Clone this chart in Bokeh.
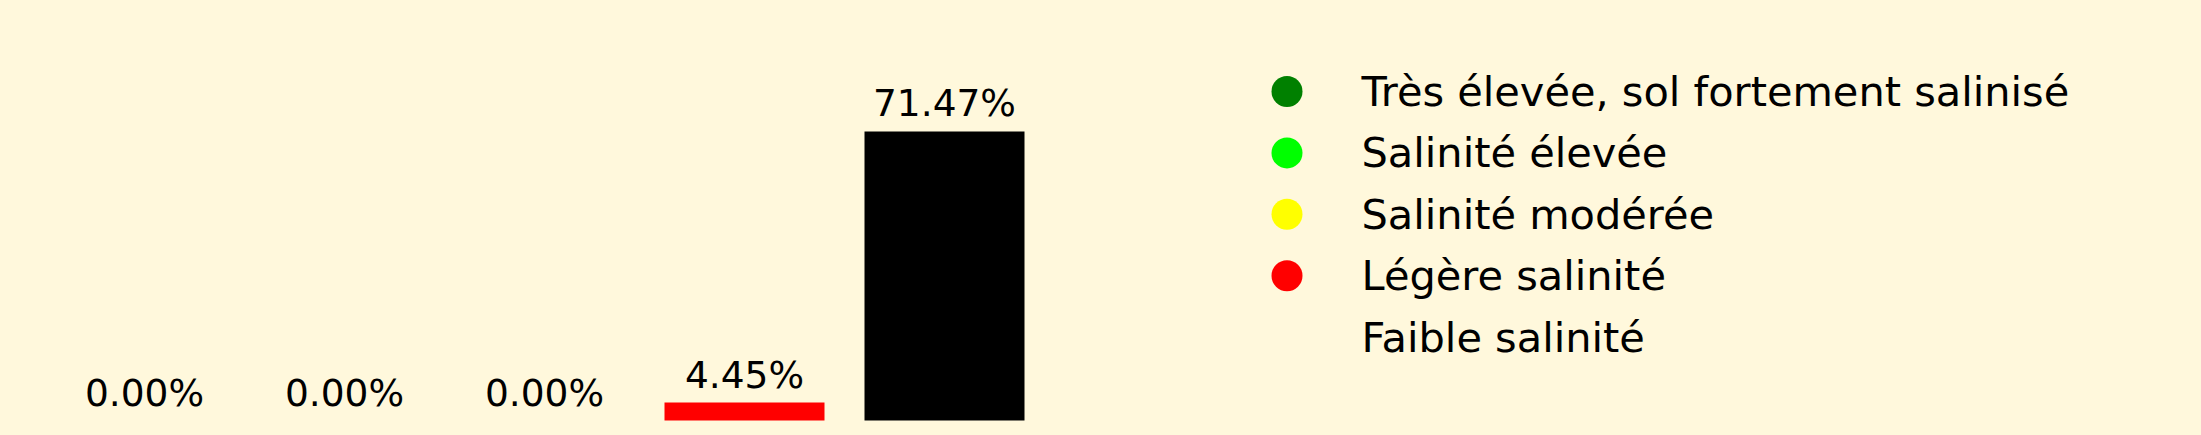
import numpy as np
from bokeh.plotting import figure
from bokeh.models import ColumnDataSource, Range1d
from bokeh.core.properties import value
from bokeh.embed import file_html
from bokeh.resources import INLINE

categories = ["Très élevée, sol fortement salinisé", "Salinité élevée",
              "Salinité modérée", "Légère salinité", "Faible salinité"]
values = [0.0, 0.0, 0.0, 4.45, 71.47]
bar_colors = ["#008000", "#00ff00", "#ffff00", "#ff0000", "#000000"]
legend_alpha = [1.0, 1.0, 1.0, 1.0, 0.0]
labels = [f"{v:.2f}%" for v in values]

BG = "#fff8dc"
W, H = 2201, 435
PX_PER_CAT = 200.0
PX_PER_PCT = 4.0437

xs = list(range(len(categories)))
src = ColumnDataSource(dict(x=xs, top=values, color=bar_colors, label=labels))

x0 = -144 / PX_PER_CAT
y0 = -15 / PX_PER_PCT
p = figure(width=W, height=H, output_backend="svg", toolbar_location=None,
           x_range=Range1d(x0, x0 + W / PX_PER_CAT),
           y_range=Range1d(y0, y0 + H / PX_PER_PCT),
           min_border=0, min_border_left=0, min_border_right=0,
           min_border_top=0, min_border_bottom=0)
p.axis.visible = False
p.xgrid.visible = False
p.ygrid.visible = False
p.outline_line_color = None
p.background_fill_color = BG
p.border_fill_color = BG

p.vbar(x="x", top="top", bottom=0, width=0.8, fill_color="color",
       line_color=None, source=src)
p.text(x="x", y="top", text="label", source=src, text_align="center",
       text_baseline="middle", y_offset=-28,
       text_font=value("DejaVu Sans"), text_font_size="37.5px", text_color="#000000")

# legend: rows laid out through their own ranges (pixel x, row index y downwards)
ROW0, ROW_STEP = 91.0, 61.4
p.extra_x_ranges = {"px": Range1d(0, W)}
p.extra_y_ranges = {"row": Range1d((H - ROW0) / ROW_STEP, -ROW0 / ROW_STEP)}
leg_src = ColumnDataSource(dict(row=xs, name=categories, color=bar_colors,
                                alpha=legend_alpha,
                                mx=[1286.5] * len(xs), tx=[1361.0] * len(xs)))
p.scatter(x="mx", y="row", source=leg_src, size=31, marker="circle",
          fill_color="color", fill_alpha="alpha", line_color=None,
          x_range_name="px", y_range_name="row")
p.text(x="tx", y="row", text="name", source=leg_src, text_align="left",
       text_baseline="middle", text_font=value("DejaVu Sans"),
       text_font_size="41.5px", text_color="#000000",
       x_range_name="px", y_range_name="row")

html = file_html(p, INLINE)
html = html.replace("<head>", "<head><style>html,body{background:%s;}</style>" % BG, 1)
open("out.html", "w").write(html)
